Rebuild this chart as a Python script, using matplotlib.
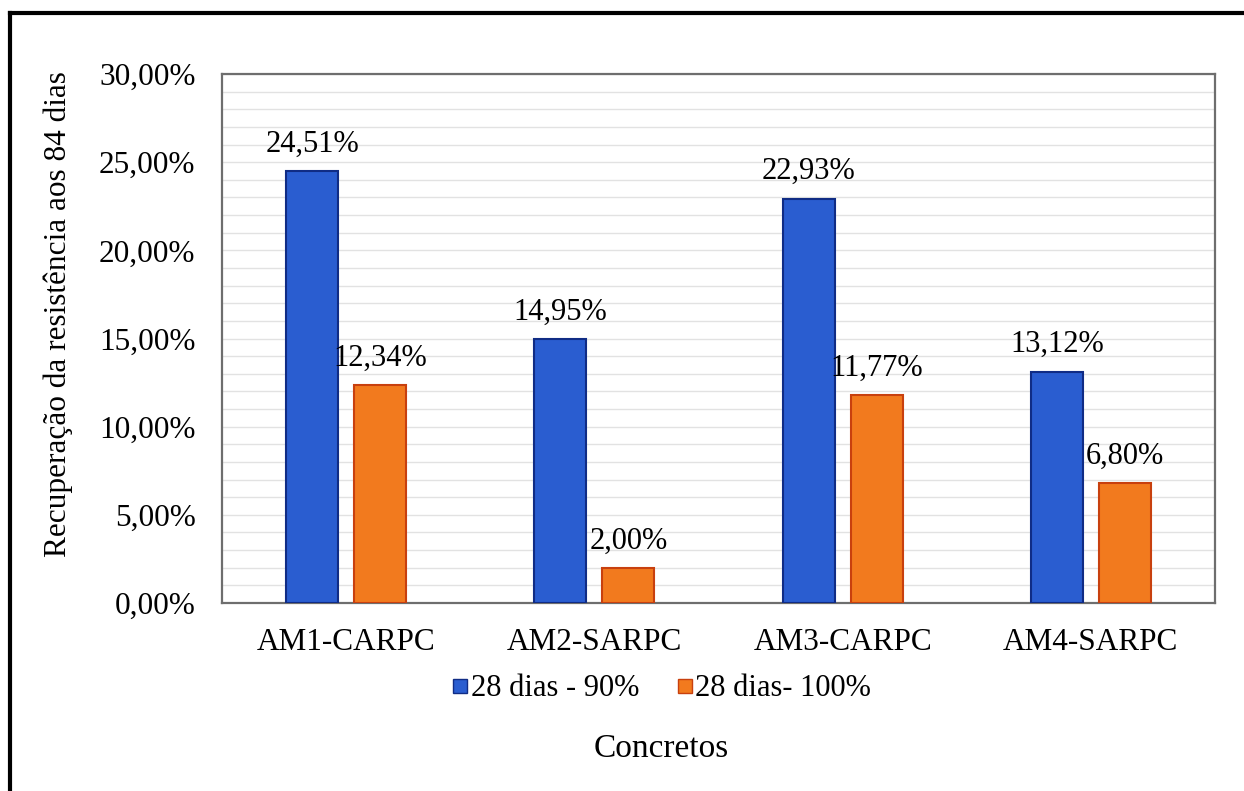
import numpy as np
import matplotlib.pyplot as plt
from matplotlib.lines import Line2D
from matplotlib.ticker import MultipleLocator, FuncFormatter

plt.rcParams['font.family'] = ['Liberation Serif', 'DejaVu Serif']

concretos = ['AM1-CARPC', 'AM2-SARPC', 'AM3-CARPC', 'AM4-SARPC']
dias90 = [24.51, 14.95, 22.93, 13.12]
dias100 = [12.34, 2.00, 11.77, 6.80]

azul, azul_borda = '#2A5DD0', '#102C85'
laranja, laranja_borda = '#F27A1E', '#C8400E'

fig = plt.figure(figsize=(12.44, 7.91), dpi=100)
ax = fig.add_axes([222 / 1244, 1 - 603 / 791, (1215 - 222) / 1244, (603 - 74) / 791])

x = np.arange(len(concretos))
w = 0.21
b1 = ax.bar(x - 0.137, dias90, w, color=azul, edgecolor=azul_borda, linewidth=1.5,
            label='28 dias - 90%', zorder=3)
b2 = ax.bar(x + 0.137, dias100, w, color=laranja, edgecolor=laranja_borda, linewidth=1.5,
            label='28 dias- 100%', zorder=3)

def pct(v):
    return f'{v:.2f}%'.replace('.', ',')

for bars, vals in ((b1, dias90), (b2, dias100)):
    for r, v in zip(bars, vals):
        ax.text(r.get_x() + r.get_width() / 2, v + 0.7, pct(v), ha='center', va='bottom',
                fontsize=22)

ax.set_xlim(-0.5, 3.5)
ax.set_ylim(0, 30)
ax.yaxis.set_major_locator(MultipleLocator(5))
ax.yaxis.set_minor_locator(MultipleLocator(1))
ax.yaxis.set_major_formatter(FuncFormatter(lambda v, _: pct(v)))
ax.grid(axis='y', which='both', color='#E2E2E2', linewidth=1.0, zorder=0)
ax.set_xticks(x)
ax.set_xticklabels(concretos, fontsize=22.5)
ax.tick_params(axis='y', which='both', length=0, labelsize=22.5, pad=19)
ax.tick_params(axis='x', which='both', length=0, pad=18)
for s in ax.spines.values():
    s.set_color('#6E6E6E')
    s.set_linewidth(1.6)

fig.text(58 / 1244, 1 - 314 / 791, 'Recuperação da resistência aos 84 dias', rotation=90,
         ha='center', va='center', fontsize=22.5)
fig.text(661 / 1244, 1 - 749 / 791, 'Concretos', ha='center', va='center', fontsize=24)

handles = [Line2D([], [], marker='s', linestyle='none', markersize=10,
                  markerfacecolor=azul, markeredgecolor=azul_borda),
           Line2D([], [], marker='s', linestyle='none', markersize=10,
                  markerfacecolor=laranja, markeredgecolor=laranja_borda)]
fig.legend(handles, ['28 dias - 90%', '28 dias- 100%'], loc='center',
           bbox_to_anchor=(661 / 1244, 1 - 689 / 791), ncol=2, frameon=False,
           fontsize=22, handletextpad=0.05, columnspacing=1.2, handlelength=0.6)

# moldura externa (topo e lado esquerdo)
fig.add_artist(Line2D([10 / 1244, 1.0], [1 - 13 / 791, 1 - 13 / 791], color='black',
                      linewidth=3, transform=fig.transFigure))
fig.add_artist(Line2D([10 / 1244, 10 / 1244], [0, 1 - 13 / 791], color='black',
                      linewidth=3, transform=fig.transFigure))

fig.savefig('out.png', dpi=100)
